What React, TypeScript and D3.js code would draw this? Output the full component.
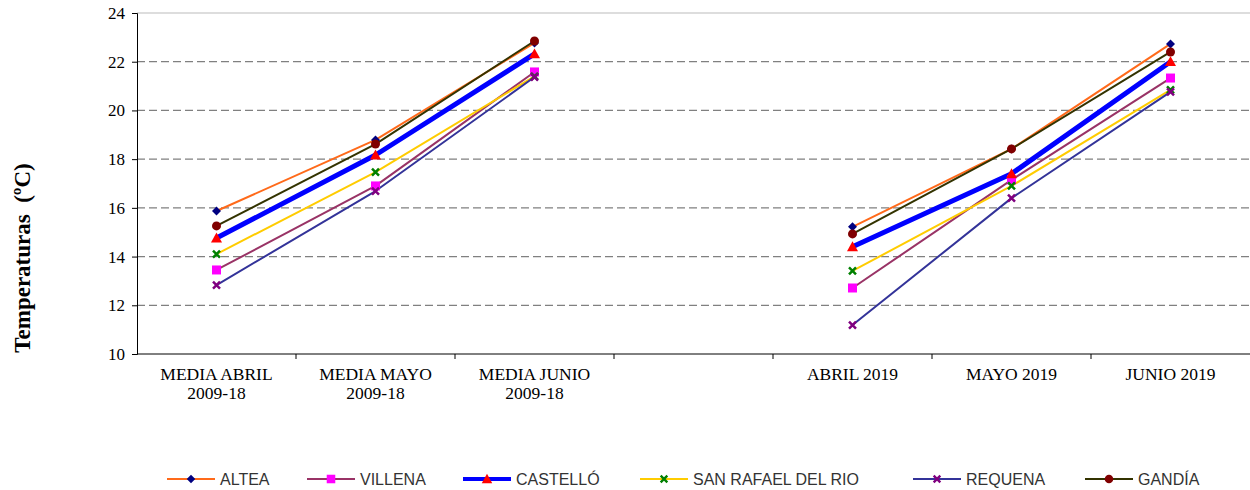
import { useEffect, useRef } from "react";
import * as d3 from "d3";

// Categorías (con un hueco vacío entre los dos bloques)
const categories = [
  "MEDIA ABRIL|2009-18",
  "MEDIA MAYO|2009-18",
  "MEDIA JUNIO|2009-18",
  "",
  "ABRIL 2019",
  "MAYO 2019",
  "JUNIO 2019",
];

const yTicks = [10, 12, 14, 16, 18, 20, 22, 24];

// Valores por estación (null = hueco)
const altea = [15.87, 18.79, 22.77, null, 15.22, 18.42, 22.73];
const villena = [13.45, 16.9, 21.58, null, 12.71, 17.15, 21.33];
const castello = [14.76, 18.17, 22.32, null, 14.4, 17.4, 22.0];
const sanRafael = [14.1, 17.47, 21.4, null, 13.41, 16.9, 20.84];
const requena = [12.83, 16.69, 21.37, null, 11.19, 16.4, 20.76];
const gandia = [15.26, 18.62, 22.85, null, 14.93, 18.42, 22.4];

type Series = {
  name: string;
  values: (number | null)[];
  line: string;
  marker: string;
  shape: "diamond" | "square" | "triangle" | "x" | "circle";
  width: number;
  legendX: number;
};

const series: Series[] = [
  { name: "ALTEA", values: altea, line: "#FF6A1A", marker: "#000080", shape: "diamond", width: 2, legendX: 167 },
  { name: "VILLENA", values: villena, line: "#993366", marker: "#FF00FF", shape: "square", width: 2, legendX: 307 },
  { name: "SAN RAFAEL DEL RIO", values: sanRafael, line: "#FFCC00", marker: "#008000", shape: "x", width: 2, legendX: 640 },
  { name: "REQUENA", values: requena, line: "#333399", marker: "#800080", shape: "x", width: 2, legendX: 913 },
  { name: "GANDÍA", values: gandia, line: "#333300", marker: "#800000", shape: "circle", width: 2, legendX: 1085 },
  { name: "CASTELLÓ", values: castello, line: "#0000FF", marker: "#FF0000", shape: "triangle", width: 5, legendX: 463 },
];

const legendOrder = ["ALTEA", "VILLENA", "CASTELLÓ", "SAN RAFAEL DEL RIO", "REQUENA", "GANDÍA"];

const serif = "'Liberation Serif', 'Times New Roman', serif";

function drawMarker(
  g: d3.Selection<SVGGElement, unknown, null, undefined>,
  s: Series,
  x: number,
  y: number,
  scale = 1
) {
  if (s.shape === "diamond") {
    const r = 4.5 * scale;
    g.append("path")
      .attr("d", `M${x},${y - r}L${x + r},${y}L${x},${y + r}L${x - r},${y}Z`)
      .attr("fill", s.marker);
  } else if (s.shape === "square") {
    const r = 4.5 * scale;
    g.append("rect")
      .attr("x", x - r)
      .attr("y", y - r)
      .attr("width", 2 * r)
      .attr("height", 2 * r)
      .attr("fill", s.marker);
  } else if (s.shape === "triangle") {
    const r = 5.5 * scale;
    g.append("path")
      .attr("d", `M${x},${y - r}L${x + r},${y + r * 0.8}L${x - r},${y + r * 0.8}Z`)
      .attr("fill", s.marker);
  } else if (s.shape === "circle") {
    g.append("circle")
      .attr("cx", x)
      .attr("cy", y)
      .attr("r", 4.5 * scale)
      .attr("fill", s.marker);
  } else {
    const r = 3.5 * scale;
    g.append("path")
      .attr("d", `M${x - r},${y - r}L${x + r},${y + r}M${x - r},${y + r}L${x + r},${y - r}`)
      .attr("stroke", s.marker)
      .attr("stroke-width", 2.5 * scale)
      .attr("fill", "none");
  }
}

export default function App() {
  const svgRef = useRef<SVGSVGElement>(null);

  useEffect(() => {
    if (!svgRef.current) return;
    const svg = d3.select(svgRef.current);
    svg.selectAll("*").remove();

    const left = 137;
    const right = 1250;
    const top = 13;
    const bottom = 354;

    const x = d3.scaleBand<number>().domain(d3.range(categories.length)).range([left, right]).padding(0);
    const cx = (i: number) => (x(i) || 0) + x.bandwidth() / 2;
    const y = d3.scaleLinear().domain([10, 24]).range([bottom, top]);

    const g = svg.append("g");

    // Borde superior del área de trazado
    g.append("line")
      .attr("x1", left)
      .attr("x2", right)
      .attr("y1", y(24))
      .attr("y2", y(24))
      .attr("stroke", "#BBBBBB")
      .attr("stroke-width", 1);

    // Rejilla horizontal
    g.append("g")
      .selectAll("line")
      .data(yTicks.filter((t) => t > 10 && t < 24))
      .enter()
      .append("line")
      .attr("x1", left)
      .attr("x2", right)
      .attr("y1", (d) => y(d))
      .attr("y2", (d) => y(d))
      .attr("stroke", "#808080")
      .attr("stroke-width", 1.2)
      .attr("stroke-dasharray", "8,4");

    // Eje Y
    const yAxis = g
      .append("g")
      .attr("transform", `translate(${left},0)`)
      .call(d3.axisLeft(y).tickValues(yTicks).tickSize(5).tickFormat(d3.format("d")));
    yAxis.select(".domain").attr("stroke", "#000");
    yAxis.selectAll(".tick line").attr("stroke", "#000");
    yAxis
      .selectAll(".tick text")
      .attr("fill", "#000")
      .style("font-family", serif)
      .style("font-size", "17px")
      .attr("x", -12);

    // Eje X
    g.append("line")
      .attr("x1", left)
      .attr("x2", right)
      .attr("y1", bottom)
      .attr("y2", bottom)
      .attr("stroke", "#000");
    g.append("g")
      .selectAll("line")
      .data(d3.range(1, categories.length))
      .enter()
      .append("line")
      .attr("x1", (d) => x(d) || 0)
      .attr("x2", (d) => x(d) || 0)
      .attr("y1", bottom)
      .attr("y2", bottom + 5)
      .attr("stroke", "#000");

    categories.forEach((c, i) => {
      if (!c) return;
      const lines = c.split("|");
      const t = g
        .append("text")
        .attr("text-anchor", "middle")
        .attr("fill", "#000")
        .style("font-family", serif)
        .style("font-size", "17.5px");
      lines.forEach((l, k) => {
        t.append("tspan")
          .attr("x", cx(i))
          .attr("y", 380 + k * 19)
          .text(l);
      });
    });

    // Título eje Y
    g.append("text")
      .attr("transform", `translate(30,258) rotate(-90)`)
      .attr("text-anchor", "middle")
      .attr("fill", "#000")
      .style("font-family", serif)
      .style("font-size", "23px")
      .style("font-weight", "bold")
      .style("white-space", "pre")
      .text("Temperaturas  (ºC)");

    // Series
    const lineGen = d3
      .line<number | null>()
      .defined((d) => d !== null)
      .x((_, i) => cx(i))
      .y((d) => y(d as number));

    series.forEach((s) => {
      g.append("path")
        .attr("d", lineGen(s.values) || "")
        .attr("fill", "none")
        .attr("stroke", s.line)
        .attr("stroke-width", s.width)
        .attr("stroke-linejoin", "round");
    });
    series.forEach((s) => {
      const mg = g.append("g");
      s.values.forEach((v, i) => {
        if (v === null) return;
        drawMarker(mg, s, cx(i), y(v));
      });
    });

    // Leyenda
    const ly = 479;
    legendOrder.forEach((name) => {
      const s = series.find((d) => d.name === name)!;
      const lg = g.append("g");
      lg.append("line")
        .attr("x1", s.legendX)
        .attr("x2", s.legendX + 48)
        .attr("y1", ly)
        .attr("y2", ly)
        .attr("stroke", s.line)
        .attr("stroke-width", s.width === 5 ? 4 : 2);
      drawMarker(lg, s, s.legendX + 24, ly, 0.95);
      lg.append("text")
        .attr("x", s.legendX + 53)
        .attr("y", ly + 6)
        .attr("fill", "#333")
        .style("font-family", "'Liberation Sans', Arial, sans-serif")
        .style("font-size", "16px")
        .text(s.name);
    });
  }, []);

  return (
    <svg
      ref={svgRef}
      width={1250}
      height={490}
      style={{ position: "absolute", left: 0, top: 0, background: "#fff" }}
    />
  );
}
